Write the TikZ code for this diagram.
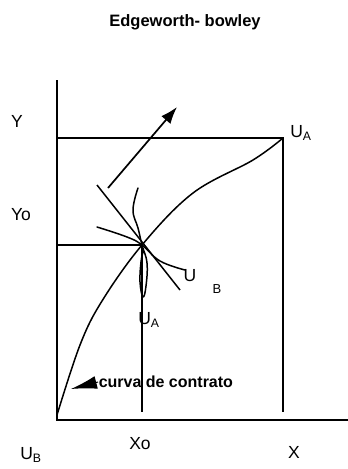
\documentclass[tikz,border=0pt]{standalone}
\usepackage{fontspec}
\setmainfont{Liberation Sans}
\usepackage{tikz}
\usetikzlibrary{arrows.meta,positioning,calc}

\begin{document}
\begin{tikzpicture}[
  x=1pt,y=-1pt,
  line width=1.5pt,
  lbl/.style={font=\fontsize{17.5}{20}\selectfont,inner sep=1pt},
  ttl/.style={font=\bfseries\fontsize{16.5}{19}\selectfont},
  curve/.style={line width=1.5pt,line join=round,line cap=round},
  arr/.style={-{Latex[length=17pt,width=12pt]},line width=1.7pt},
]
\useasboundingbox (0,0) rectangle (348,469);
% Title
\node[ttl] (title) at (185,22) {Edgeworth- bowley};
% Box
\coordinate (ob) at (57,420);
\coordinate (oa) at (283,138);
\coordinate (p) at (142,245);
\coordinate (ytop) at (57,80);
\coordinate (xend) at (348,420);
\draw (ytop) -- (ob) -- (xend);
\draw (57,138) -- (oa) -- (283,412);
\draw (57,245) -- (p) -- (142,412);
% contract curve
\draw[curve] plot[smooth,tension=0.6] coordinates
  {(57,415) (80,345) (102,301) (p) (193,193) (253,160) (oa)};
% tangent
\coordinate (t1) at (97,185);
\coordinate (t2) at (180,290);
\draw (t1) -- (t2);
% indifference curve B
\draw[curve] plot[smooth,tension=0.7] coordinates
  {(97,227) (127,237) (p) (160,261) (185,270)};
% indifference curve A
\draw[curve] plot[smooth,tension=0.7] coordinates
  {(138,188) (133,210) (138,228) (p) (147,263) (146,286) (143,297)
   (140,282) (141,262) (143,252)};
% direction arrow
\coordinate (a0) at (108,188);
\coordinate (a1) at (177,107);
\draw[arr] (a0) -- (a1);
% labels
\node[lbl] (y) at (17,121) {Y};
\node[lbl] (yo) at (21,215) {Yo};
\node[lbl] (ua) at (301,133) {U\textsubscript{A}};
\node[lbl] (ub) at (190,276) {U};
\node[lbl,font=\fontsize{13}{15}\selectfont] (ubs) at (217,289) {B};
\node[lbl] (ua2) at (149,320) {U\textsubscript{A}};
\node[lbl] (ub2) at (31,455) {U\textsubscript{B}};
\node[lbl] (xo) at (140,444) {Xo};
\node[lbl] (x) at (294,452) {X};
% contract label
\coordinate (cc) at (71,389);
\node[ttl,font=\bfseries\fontsize{16}{18}\selectfont,anchor=west,inner sep=0pt] (cl) at (98,382) {curva de contrato};
\draw[-{Latex[length=26pt,width=13pt]},line width=1pt] (cl.west) -- (cc);
\end{tikzpicture}
\end{document}
